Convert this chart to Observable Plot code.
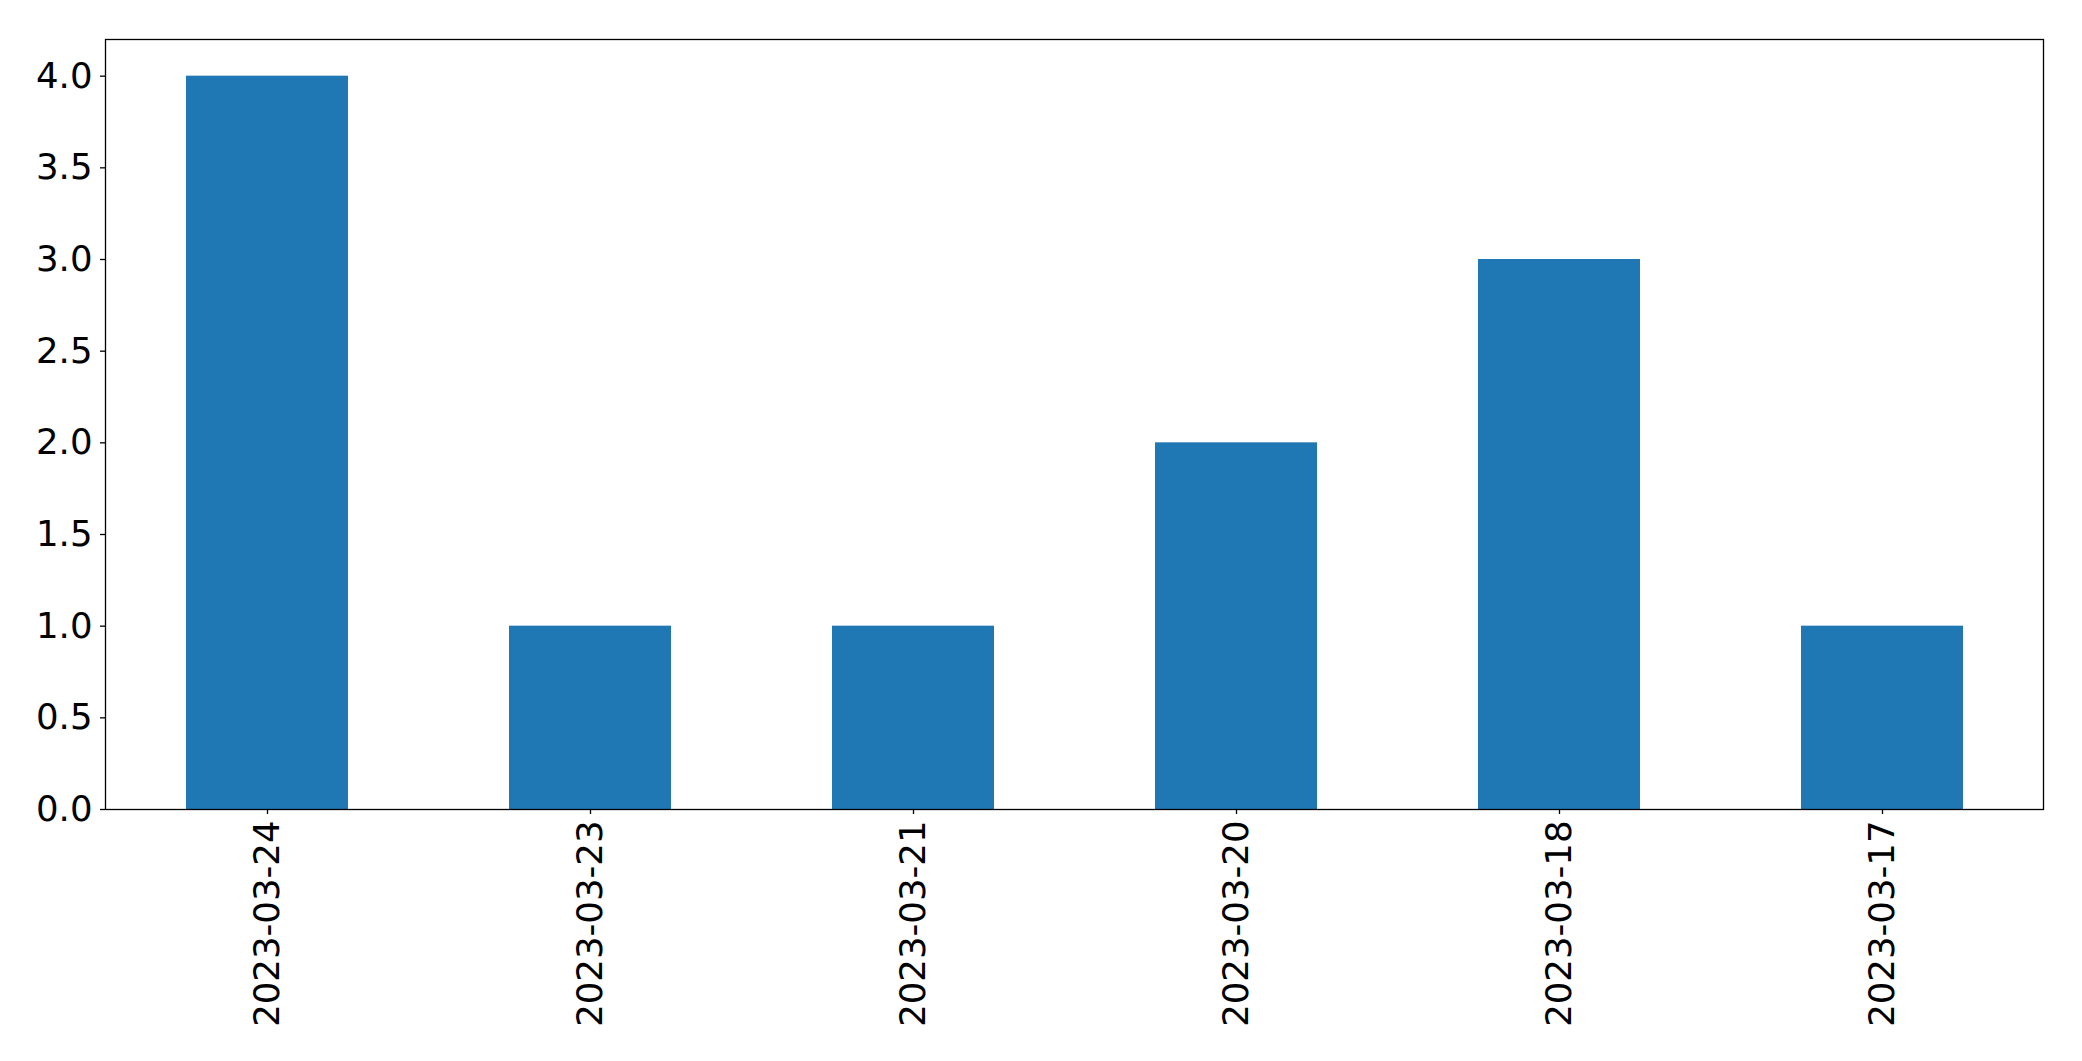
<!DOCTYPE html>
<html>
<head>
<meta charset="utf-8">
<script src="https://cdn.jsdelivr.net/npm/d3@7"></script>
<script src="https://cdn.jsdelivr.net/npm/@observablehq/plot@0.6"></script>
<style>
html, body { margin: 0; padding: 0; background: #fff; }
#chart svg { display: block; }
</style>
</head>
<body>
<div id="chart"></div>
<script>
const dates = ["2023-03-24", "2023-03-23", "2023-03-21", "2023-03-20", "2023-03-18", "2023-03-17"];
const counts = [4, 1, 1, 2, 3, 1];
const yTicks = [0, 0.5, 1, 1.5, 2, 2.5, 3, 3.5, 4];

const data = dates.map((d, i) => ({date: d, count: counts[i]}));

const chart = Plot.plot({
  width: 2082,
  height: 1061,
  marginLeft: 105,
  marginRight: 39,
  marginTop: 39,
  marginBottom: 252,
  style: {fontFamily: "DejaVu Sans", fontSize: "35.5px", color: "#000", background: "#fff"},
  x: {domain: dates, padding: 0.5, paddingOuter: 0.25, label: null},
  y: {domain: [0, 4.2], label: null},
  marks: [
    Plot.barY(data, {x: "date", y: "count", fill: "#1f77b4"}),
    Plot.axisX({tickRotate: -90, tickSize: 5, tickPadding: 6, fontSize: 35.5, stroke: "#000", strokeWidth: 1.3, strokeOpacity: 1, label: null}),
    Plot.axisY({ticks: yTicks, tickFormat: d3.format(".1f"), tickSize: 5, tickPadding: 8, fontSize: 35.5, stroke: "#000", strokeWidth: 1.3, strokeOpacity: 1, label: null}),
    Plot.frame({stroke: "#000", strokeWidth: 1.3})
  ]
});
document.getElementById("chart").appendChild(chart);
</script>
</body>
</html>
